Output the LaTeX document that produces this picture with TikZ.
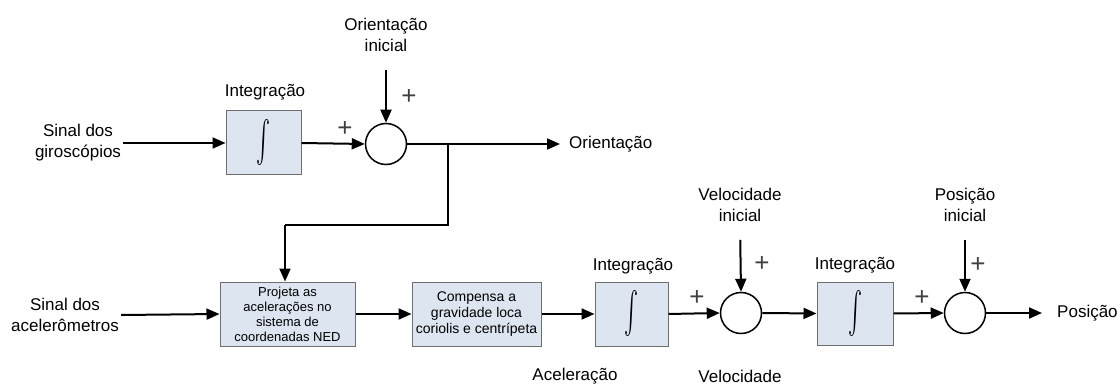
\documentclass[tikz,border=0pt]{standalone}
\usepackage{fontspec}
\usepackage{graphicx}
\setmainfont{Liberation Sans}
\usetikzlibrary{arrows.meta}
\definecolor{boxfill}{HTML}{DDE5F0}
\definecolor{boxline}{HTML}{6E6E6E}
\newcommand{\bigint}{\resizebox*{14pt}{46pt}{$\int$}}
\tikzset{
  lbl/.style={font=\fontsize{17}{21}\selectfont, align=center, inner sep=2pt},
  intlbl/.style={lbl, inner sep=0pt},
  pluslbl/.style={font=\fontsize{26}{30}\selectfont, inner sep=0pt, text=black!75},
  blk/.style={draw=boxline, fill=boxfill, line width=1pt, align=center,
    font=\fontsize{13}{15}\selectfont, minimum height=64pt},
  intblk/.style={blk, minimum width=75pt, inner sep=0pt},
  sumc/.style={draw, circle, line width=1.5pt, minimum size=41pt, inner sep=0pt},
  conn/.style={line width=2pt, -{Triangle[length=13pt,width=11pt]}},
  wire/.style={line width=2pt}
}
\begin{document}
\begin{tikzpicture}[x=1pt,y=-1pt]
\useasboundingbox (0,0) rectangle (1118,387);
% top row
\node[lbl] (gyro) at (78,143) {Sinal dos\\giroscópios};
\node[intblk] (int1) at (263.5,143) {\bigint};
\node[intlbl] (lint1) at (265,92) {Integração};
\node[sumc] (sum1) at (386,144) {};
\node[lbl] (oi) at (386,35) {Orientação\\inicial};
\node[pluslbl] (p1a) at (345,129) {+};
\node[pluslbl] (p1b) at (409,97) {+};
\node[lbl, anchor=west, inner sep=0pt] (ori) at (569,144) {Orientação};
\coordinate (br) at (448,144);
\coordinate (brd) at (448,225);
\coordinate (brl) at (285,225);
\draw[conn] (gyro.east) -- (int1.west);
\draw[conn] (int1.east) -- (sum1.west);
\draw[conn, shorten <=16pt] (oi.south) -- (sum1.north);
\draw[conn, shorten >=9pt] (sum1.east) -- (ori.west);
% bottom row
\node[lbl] (acc) at (65,315) {Sinal dos\\acelerômetros};
\node[blk, minimum width=135pt] (proj) at (287.5,314) {Projeta as\\acelerações no\\sistema de\\coordenadas NED};
\node[blk, minimum width=129pt, font=\fontsize{14}{16}\selectfont] (comp) at (476.5,314) {Compensa a\\gravidade loca\\coriolis e centrípeta};
\node[intblk, minimum width=73pt] (int2) at (631.5,314) {\bigint};
\node[intlbl] (lint2) at (633,266) {Integração};
\node[pluslbl] (p2a) at (697,298) {+};
\node[sumc] (sum2) at (741,313) {};
\node[lbl] (vi) at (740,205) {Velocidade\\inicial};
\node[pluslbl] (p2b) at (762,264) {+};
\node[intblk, minimum width=76pt, minimum height=63pt] (int3) at (855,313.5) {\bigint};
\node[intlbl] (lint3) at (855,265) {Integração};
\node[pluslbl] (p3a) at (922,298) {+};
\node[sumc] (sum3) at (965,313) {};
\node[lbl] (pi) at (965,205) {Posição\\inicial};
\node[pluslbl] (p3b) at (978,265) {+};
\node[lbl, anchor=west, inner sep=0pt] (pos) at (1057,313) {Posição};
\node[lbl] (lacel) at (575,376) {Aceleração};
\node[lbl] (lvel) at (740,376) {Velocidade};
\draw[wire] (sum1.east) -- (br) -- (brd) -- (brl);
\draw[conn] (brl) -- (brl |- proj.north);
\draw[conn] (acc.east) -- (proj.west);
\draw[conn] (proj.east) -- (comp.west);
\draw[conn] (comp.east) -- (int2.west);
\draw[conn] (int2.east) -- (sum2.west);
\draw[conn, shorten <=16pt] (vi.south) -- (sum2.north);
\draw[conn] (sum2.east) -- (int3.west);
\draw[conn] (int3.east) -- (sum3.west);
\draw[conn, shorten <=16pt] (pi.south) -- (sum3.north);
\draw[conn, shorten >=15pt] (sum3.east) -- (pos.west);
\end{tikzpicture}
\end{document}
